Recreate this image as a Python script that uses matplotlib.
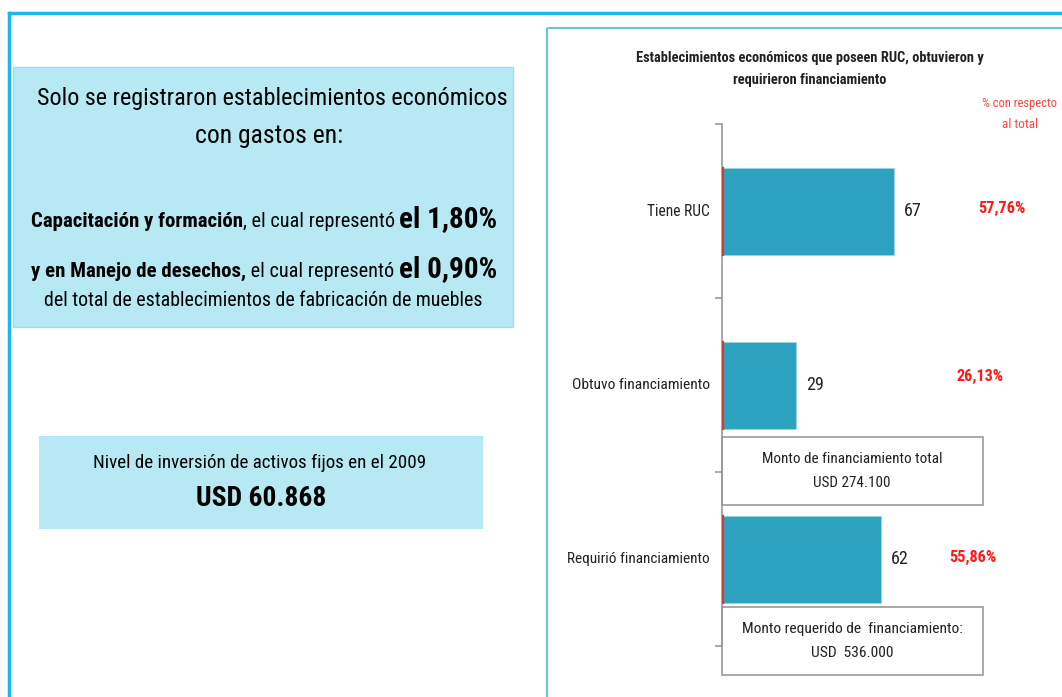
import matplotlib
matplotlib.use('Agg')
import matplotlib.pyplot as plt
from matplotlib.patches import Rectangle
from matplotlib import font_manager

# Datos del gráfico
categorias = ['Tiene RUC', 'Obtuvo financiamiento', 'Requirió financiamiento']
valores = [67, 29, 62]
porcentajes = ['57,76%', '26,13%', '55,86%']
montos = [('Monto de financiamiento total', 'USD 274.100'),
          ('Monto requerido de  financiamiento:', 'USD  536.000')]

# Buscar una fuente estrecha si existe
preferidas = ['Liberation Sans Narrow', 'Arial Narrow', 'Roboto Condensed', 'Open Sans Condensed',
              'Noto Sans', 'DejaVu Sans', 'Open Sans', 'Roboto', 'Liberation Sans']
familia, estrecha = 'Liberation Sans', 'normal'
lista = font_manager.fontManager.ttflist
encontrada = False
for nombre in preferidas:
    for f in lista:
        if f.name == nombre and (str(f.stretch) in ('condensed', 'semi-condensed', 'extra-condensed')
                                 or 'Narrow' in nombre or 'Condensed' in nombre):
            familia, estrecha = nombre, str(f.stretch)
            encontrada = True
            break
    if encontrada:
        break
plt.rcParams['font.family'] = [familia, 'DejaVu Sans']
plt.rcParams['font.stretch'] = estrecha

W, H = 1062, 697
fig = plt.figure(figsize=(W / 100, H / 100), dpi=100)
rend = fig.canvas.get_renderer()

bg = fig.add_axes([0, 0, 1, 1])
bg.set_xlim(0, W)
bg.set_ylim(H, 0)
bg.axis('off')


def ajustar(textos, ancho):
    # escala el tamaño de un grupo de textos para que ocupe el ancho indicado
    total = sum(t.get_window_extent(rend).width for t in textos)
    k = min(ancho / total, 1.1)
    for t in textos:
        t.set_fontsize(t.get_fontsize() * k)


def texto(x, y, s, ancho, fs, **kw):
    t = bg.text(x, y, s, ha='center', va='center', fontsize=fs, **kw)
    ajustar([t], ancho)
    return t


def linea(y, partes, ancho, xc=264):
    objs = [bg.text(0, y, s, ha='left', va='baseline', fontsize=fs,
                    fontweight='bold' if b else 'normal') for s, fs, b in partes]
    ajustar(objs, ancho)
    anchos = [o.get_window_extent(rend).width for o in objs]
    x = xc - sum(anchos) / 2
    for o, a in zip(objs, anchos):
        o.set_x(x)
        x += a


azul = '#18b9ea'
bg.plot([9, W], [13, 13], color=azul, lw=2.5)
bg.plot([9, 9], [13, H], color=azul, lw=2.5)

# Panel derecho
bg.add_patch(Rectangle((547, 28), W - 547 + 5, H, fill=False, ec='#6cc3da', lw=1.5))

# Cuadro 1
caja = '#b6e9f4'
bg.add_patch(Rectangle((13, 67), 500, 260, fc=caja, ec='#9fdcec', lw=1))
texto(272, 98, 'Solo se registraron establecimientos económicos', 469, 20)
texto(269, 136, 'con gastos en:', 148, 20)
linea(227, [('Capacitación y formación', 16.5, True), (', el cual representó ', 16, False),
            ('el 1,80%', 23, True)], 468)
linea(277, [('y en Manejo de desechos,', 16.5, True), (' el cual representó ', 16, False),
            ('el 0,90%', 23, True)], 466)
texto(263, 300, 'del total de establecimientos de fabricación de muebles', 438, 16)

# Cuadro 2
bg.add_patch(Rectangle((39, 436), 444, 93, fc=caja, ec='none'))
texto(260, 463, 'Nivel de inversión de activos fijos en el 2009', 334, 16)
texto(261, 498, 'USD 60.868', 130, 23, fontweight='bold')

# Título del gráfico
texto(810, 58, 'Establecimientos económicos que poseen RUC, obtuvieron y', 347, 11,
      fontweight='bold', color='#222222')
texto(810, 80, 'requirieron financiamiento', 152, 11, fontweight='bold', color='#222222')
texto(1020, 103, '% con respecto', 75, 11, color='#ff4444')
texto(1020, 125, 'al total', 36, 11, color='#ff4444')

# Eje de barras
x0, x1 = 722, W
y_top, y_bot = 124, 646
ax = fig.add_axes([x0 / W, 1 - y_bot / H, (x1 - x0) / W, (y_bot - y_top) / H])
ax.set_xlim(0, (x1 - x0) / 2.56)
ax.set_ylim(len(categorias) - 0.5, -0.5)
pos = list(range(len(categorias)))
ax.barh(pos, valores, height=0.5, color='#2ea3bf', ec='#9ed4e2', lw=0.6, zorder=2)
for p in pos:
    ax.plot([0.35, 0.35], [p - 0.25, p + 0.25], color='#d33a3a', lw=1.6, zorder=3)
for sp in ['top', 'right', 'bottom']:
    ax.spines[sp].set_visible(False)
ax.spines['left'].set_color('#999999')
ax.spines['left'].set_linewidth(1.2)
ax.set_xticks([])
ax.set_yticks([-0.5, 0.5, 1.5, 2.5])
ax.set_yticklabels([])
ax.tick_params(axis='y', length=5, color='#999999', width=1.2)
ax.patch.set_alpha(0)

anchos_cat = [63, 138, 143]
for p, c, v, a in zip(pos, categorias, valores, anchos_cat):
    t = ax.text(-4.6, p, c, ha='right', va='center', fontsize=13.5, color='#222222')
    ajustar([t], a)
    ax.text(v + 4, p, str(v), ha='left', va='center', fontsize=13, color='#222222')

pct_x = [1002, 980, 973]
pct_y = [208, 376, 557]
for px, py, s in zip(pct_x, pct_y, porcentajes):
    texto(px, py, s, 47, 13, fontweight='bold', color='#ff1a1a')

# Cuadros de montos
for by, (l1, l2) in zip([437, 607], montos):
    bg.add_patch(Rectangle((722, by), 261, 68, fc='white', ec='#999999', lw=1.2, zorder=4))
    t1 = texto(852, by + 22, l1, 180 if 'total' in l1 else 221, 13.5, color='#222222', zorder=5)
    bg.text(852, by + 46, l2, ha='center', va='center', fontsize=t1.get_fontsize(),
            color='#222222', zorder=5)

fig.savefig('out.png', dpi=100)
